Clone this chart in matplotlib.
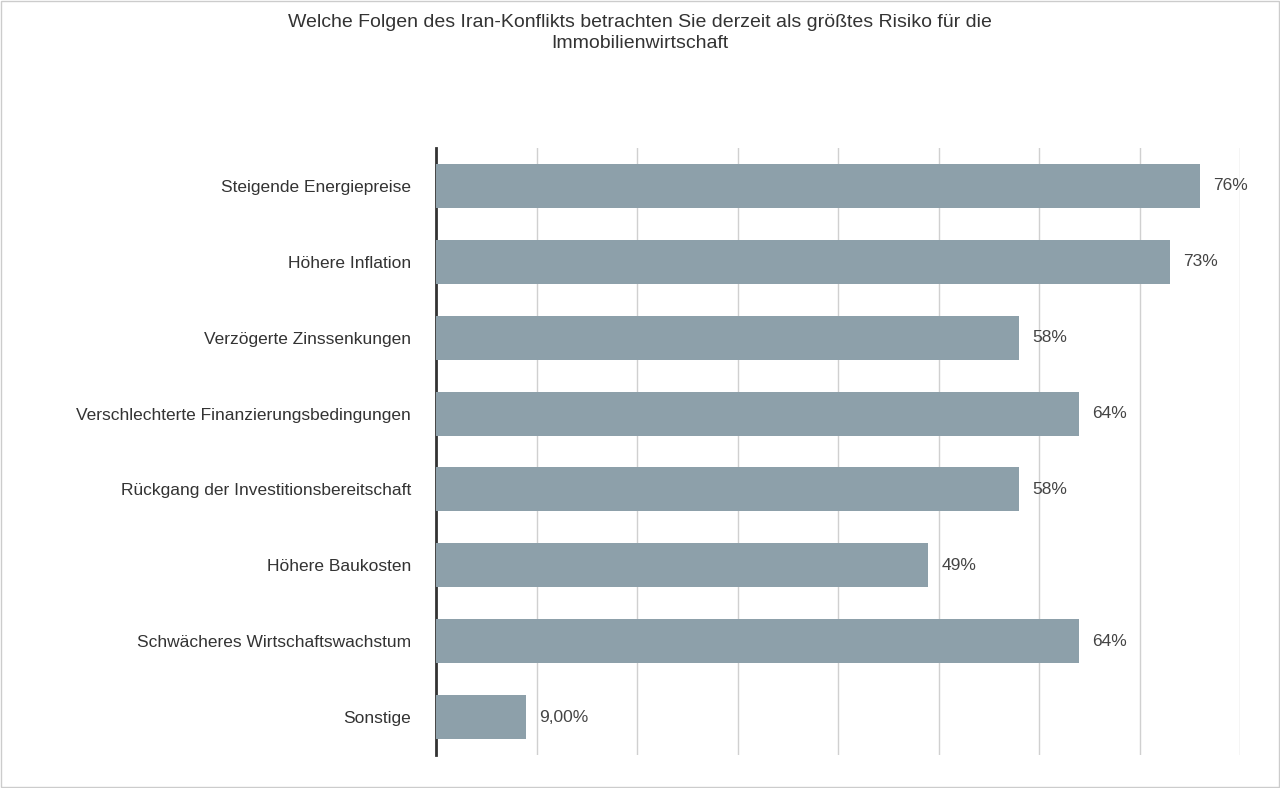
import matplotlib
matplotlib.use("Agg")
import matplotlib.pyplot as plt
from matplotlib.patches import Rectangle

categories = ["Steigende Energiepreise", "Höhere Inflation", "Verzögerte Zinssenkungen",
              "Verschlechterte Finanzierungsbedingungen", "Rückgang der Investitionsbereitschaft",
              "Höhere Baukosten", "Schwächeres Wirtschaftswachstum", "Sonstige"]
values = [76, 73, 58, 64, 58, 49, 64, 9]
labels = ["76%", "73%", "58%", "64%", "58%", "49%", "64%", "9,00%"]
title = "Welche Folgen des Iran-Konflikts betrachten Sie derzeit als größtes Risiko für die\nImmobilienwirtschaft"

plt.rcParams['font.family'] = ['Liberation Sans', 'DejaVu Sans']
fig = plt.figure(figsize=(12.8, 7.88), dpi=100)
ax = fig.add_axes([436/1280, 1-755/788, (1240-436)/1280, (755-148)/788])
y = list(range(len(categories)))
ax.barh(y, values, height=0.58, color="#8DA0AA", zorder=3)
for yi, v, l in zip(y, values, labels):
    ax.text(v + 1.3, yi, l, va="center", ha="left", fontsize=12.5, color="#444444")
ax.set_xlim(0, 80)
ax.set_ylim(7.5, -0.5)
ax.set_yticks(y)
ax.set_yticklabels(categories, fontsize=12.5, color="#333333")
ax.set_xticks(range(0, 81, 10))
ax.set_xticklabels([])
ax.tick_params(axis="both", length=0, pad=18)
ax.grid(axis="x", color="#d0d0d0", linewidth=1, zorder=0)
for s in ["top", "right", "bottom"]:
    ax.spines[s].set_visible(False)
ax.spines["left"].set_color("#333333")
ax.spines["left"].set_linewidth(2)
fig.text(0.5, 1-33/788, title, ha="center", va="center", fontsize=14, color="#333333", linespacing=1.3)
fig.patches.append(Rectangle((0.001, 0.001), 0.998, 0.998, transform=fig.transFigure,
                             fill=False, edgecolor="#cccccc", linewidth=1))
fig.savefig("out.png", dpi=100)
